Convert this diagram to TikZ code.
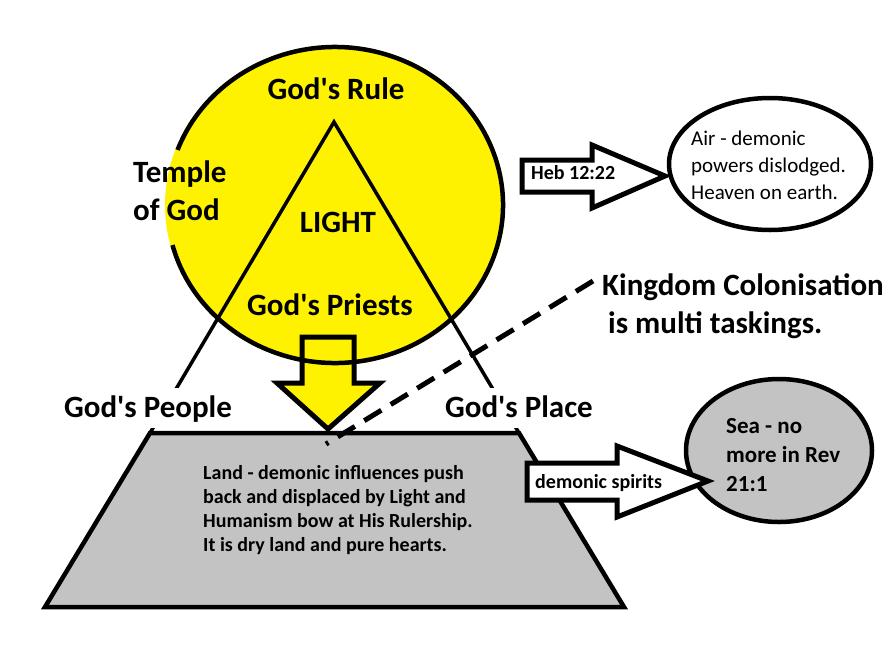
\documentclass[tikz,border=0pt]{standalone}
\usepackage{fontspec}
\setmainfont{Carlito}
\usetikzlibrary{calc}
\definecolor{sunyellow}{RGB}{255,242,0}
\definecolor{landgray}{RGB}{195,195,195}
\newcommand{\ap}{\textquotesingle}
\begin{document}
\begin{tikzpicture}[x=1pt,y=-1pt,
  big/.style={font=\bfseries\fontsize{31}{38}\selectfont, inner sep=0pt},
  small/.style={font=\bfseries\fontsize{20}{24}\selectfont, inner sep=0pt},
  outline/.style={draw=black, line width=4.5pt, line join=miter},
  arrowbox/.style={draw=black, line width=5pt, line join=miter},
  side/.style={draw=black, line width=3.5pt}]
\fill[white] (0,0) rectangle (896,646);
\useasboundingbox (0,0) rectangle (896,646);

% circle (temple) fill
\coordinate (c) at (335,205);
\fill[sunyellow] (c) ellipse [x radius=170, y radius=160];

% land trapezoid and triangle sides
\coordinate (apex) at (334,122);
\coordinate (tl) at (150,433);
\coordinate (tr) at (519,433);
\coordinate (bl) at (45,607);
\coordinate (br) at (624,607);
\filldraw[fill=landgray, outline] (tl) -- (tr) -- (br) -- (bl) -- cycle;
\draw[side] (tl) -- (apex) -- (tr);

% down arrow
\filldraw[fill=sunyellow, arrowbox] (302,337) -- (354,337) -- (354,383) -- (380,383)
  -- (328,429) -- (277,383) -- (302,383) -- cycle;

% circle outline (left part hidden behind the label)
\draw[line width=4.5pt] ($(c)+(200.4:168 and 158)$)
  arc[start angle=200.4, end angle=525.3, x radius=168, y radius=158];
\fill[white] (110,150) rectangle (165,245);

% labels in the circle
\node[big, anchor=base] (rule) at (336,99) {God\ap s Rule};
\node[big, anchor=base] (light) at (338,232) {LIGHT};
\node[big, anchor=base] (priests) at (330,315) {God\ap s Priests};
\node[big, anchor=base west] (temple) at (133,182) {\vtop{\hbox{Temple}\hbox{of God}}};

% side labels
\node[big, anchor=base, fill=white, text height=29pt, text depth=11pt, inner xsep=3pt] (people) at (148,417) {God\ap s People};
\node[big, anchor=base, fill=white, text height=29pt, text depth=11pt, inner xsep=3pt] (place) at (519,417) {God\ap s Place};

% land text
\node[small, anchor=base west] (land) at (203,479) {\vtop{\hbox{Land - demonic influences push}\hbox{back and displaced by Light and}\hbox{Humanism bow at His Rulership.}\hbox{It is dry land and pure hearts.}}};

% kingdom text and dashed pointer
\node[big, anchor=base west] (kingdom) at (602,295) {\vtop{\hbox{Kingdom Colonisation}\hbox{\hspace{6pt}is multi taskings.}}};
\coordinate (dstart) at (326,444);
\draw[line width=5pt, dash pattern=on 20pt off 11pt] ($(kingdom.base west)+(-9,-14)$) -- (dstart);

% air ellipse and arrow
\coordinate (airc) at (770,164);
\filldraw[fill=white, outline] (airc) ellipse [x radius=101, y radius=66];
\node[font=\fontsize{21}{27}\selectfont, inner sep=0pt, anchor=base west] (air) at (691,145)
  {\vtop{\hbox{Air - demonic}\hbox{powers dislodged.}\hbox{Heaven on earth.}}};
\filldraw[fill=white, arrowbox] (522,160) -- (592,160) -- (592,145) -- (665,176)
  -- (592,208) -- (592,192) -- (522,192) -- cycle;
\node[small, anchor=base west] (heb) at (531,179) {Heb 12:22};

% sea ellipse and arrow
\coordinate (seac) at (779,450.5);
\filldraw[fill=landgray, outline] (seac) ellipse [x radius=93, y radius=71.5];
\node[font=\bfseries\fontsize{23}{29}\selectfont, inner sep=0pt, anchor=base west] (sea) at (726,433)
  {\vtop{\hbox{Sea - no}\hbox{more in Rev}\hbox{21:1}}};
\filldraw[fill=white, arrowbox] (527,463) -- (617,463) -- (617,446) -- (708,481)
  -- (617,517) -- (617,500) -- (527,500) -- cycle;
\node[small, anchor=base west] (spirits) at (535,488) {demonic spirits};
\end{tikzpicture}
\end{document}
